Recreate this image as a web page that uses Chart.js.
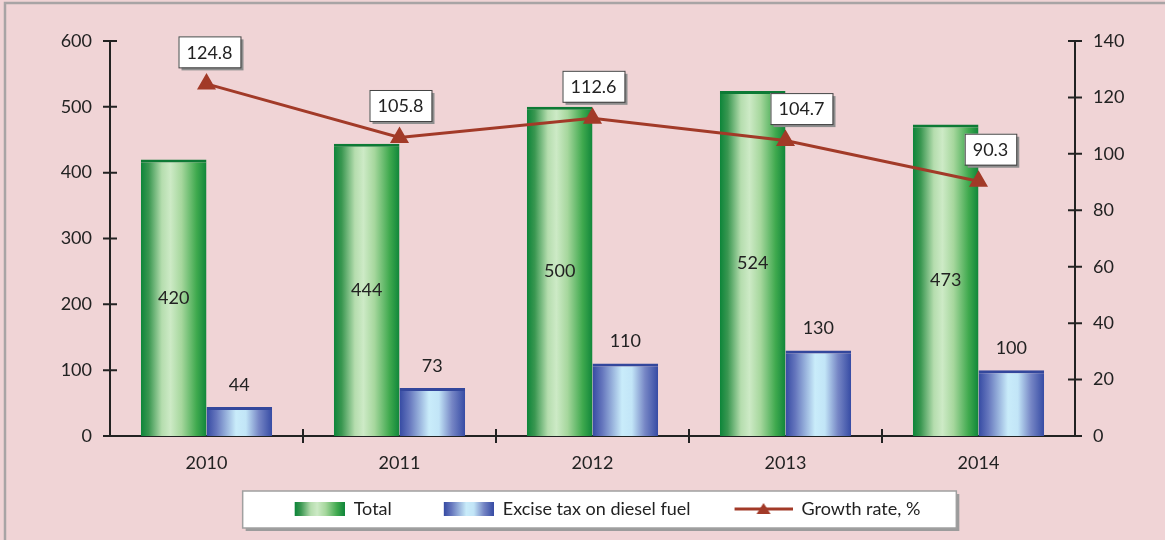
<!DOCTYPE html>
<html>
<head>
<meta charset="utf-8">
<script src="https://cdn.jsdelivr.net/npm/chart.js@4.4.1/dist/chart.umd.min.js"></script>
<style>
  html, body { margin: 0; padding: 0; background: #f0d4d6; }
  #wrap { width: 1165px; height: 540px; position: relative; }
</style>
</head>
<body>
<div id="wrap"><canvas id="chart" width="1165" height="540"></canvas></div>
<script>
// data
const years = ['2010', '2011', '2012', '2013', '2014'];
const totalValues = [420, 444, 500, 524, 473];
const dieselValues = [44, 73, 110, 130, 100];
const growthRates = [124.8, 105.8, 112.6, 104.7, 90.3];
const leftTicks = [0, 100, 200, 300, 400, 500, 600];
const rightTicks = [0, 20, 40, 60, 80, 100, 120, 140];

const FONT = 'Lato, "Open Sans", sans-serif';
const FS = 18;
const catPct = 0.68;
const lineColor = '#a23a28';
const greenStops = [[0, '#0c8539'], [0.12, '#3a9751'], [0.32, '#b5ddae'], [0.45, '#cdeac6'], [0.62, '#a6d79d'], [0.85, '#3fa94e'], [1, '#10863a']];
const blueStops = [[0, '#354aa3'], [0.15, '#6576bd'], [0.45, '#c9ecfa'], [0.6, '#c2e5f7'], [0.8, '#7686c5'], [1, '#364ba4']];
// small sideways shift of the growth labels (as in the picture)
const labelShift = [3, 1, 1, 16, 12];

function barGradient(c, stops) {
    const chart = c.chart;
    const xs = chart.scales.x;
    if (c.type !== 'data' || !xs || !xs.width) return stops[0][1];
    const center = xs.getPixelForValue(c.dataIndex);
    const group = xs.width / years.length * catPct;
    const w = group / 2;
    const left = c.datasetIndex === 0 ? center - group / 2 : center;
    const g = chart.ctx.createLinearGradient(left, 0, left + w, 0);
    stops.forEach(s => g.addColorStop(s[0], s[1]));
    return g;
}

// legend markers: transparent room on the left gives the gap between items
const MW = 92;
function swatch(stops) {
    const cv = document.createElement('canvas');
    cv.width = MW; cv.height = 14;
    const cx = cv.getContext('2d');
    const g = cx.createLinearGradient(MW - 50, 0, MW, 0);
    stops.forEach(s => g.addColorStop(s[0], s[1]));
    cx.fillStyle = g;
    cx.fillRect(MW - 50, 0, 50, 14);
    return cv;
}
function lineSwatch() {
    const cv = document.createElement('canvas');
    cv.width = MW; cv.height = 14;
    const cx = cv.getContext('2d');
    const x0 = MW - 58;
    cx.strokeStyle = lineColor; cx.lineWidth = 3;
    cx.beginPath(); cx.moveTo(x0, 7); cx.lineTo(MW, 7); cx.stroke();
    cx.fillStyle = lineColor;
    cx.beginPath(); cx.moveTo(x0 + 29, 1); cx.lineTo(x0 + 36, 12); cx.lineTo(x0 + 22, 12); cx.closePath(); cx.fill();
    return cv;
}
const markers = [swatch(greenStops), swatch(blueStops), lineSwatch()];

const backdrop = {
    id: 'backdrop',
    beforeDraw(chart) {
        const ctx = chart.ctx;
        ctx.save();
        ctx.fillStyle = '#f0d4d6';
        ctx.fillRect(0, 0, chart.width, chart.height);
        ctx.strokeStyle = '#a8a4a5';
        ctx.lineWidth = 2.5;
        ctx.beginPath();
        ctx.moveTo(5, chart.height); ctx.lineTo(5, 3); ctx.lineTo(chart.width, 3);
        ctx.stroke();
        // legend box
        const boxes = chart.legend.legendHitBoxes;
        if (boxes && boxes.length) {
            const l = Math.min(...boxes.map(b => b.left)) + (MW - 50) - 52;
            const r = Math.max(...boxes.map(b => b.left + b.width)) + 36;
            const cy = boxes[0].top + boxes[0].height / 2;
            ctx.fillStyle = '#9c9c9c';
            ctx.fillRect(l + 3, cy - 18 + 3, r - l, 37);
            ctx.fillStyle = '#ffffff';
            ctx.fillRect(l, cy - 18, r - l, 37);
            ctx.strokeStyle = '#a0a0a0';
            ctx.lineWidth = 1.5;
            ctx.strokeRect(l, cy - 18, r - l, 37);
        }
        ctx.restore();
    }
};

// tick marks crossing the axis lines
const crossTicks = {
    id: 'crossTicks',
    afterDraw(chart) {
        const ctx = chart.ctx;
        const a = chart.chartArea;
        ctx.save();
        ctx.strokeStyle = '#222';
        ctx.lineWidth = 2;
        ctx.beginPath();
        chart.scales.y.ticks.forEach(t => {
            const y = chart.scales.y.getPixelForValue(t.value);
            ctx.moveTo(a.left - 7, y); ctx.lineTo(a.left + 7, y);
        });
        chart.scales.y1.ticks.forEach(t => {
            const y = chart.scales.y1.getPixelForValue(t.value);
            ctx.moveTo(a.right - 7, y); ctx.lineTo(a.right + 7, y);
        });
        const cat = (a.right - a.left) / years.length;
        for (let i = 1; i < years.length; i++) {
            const x = a.left + cat * i;
            ctx.moveTo(x, a.bottom - 7); ctx.lineTo(x, a.bottom + 7);
        }
        ctx.stroke();
        ctx.restore();
    }
};

const valueLabels = {
    id: 'valueLabels',
    afterDatasetsDraw(chart) {
        const ctx = chart.ctx;
        ctx.save();
        ctx.font = FS + 'px ' + FONT;
        ctx.textAlign = 'center';
        ctx.textBaseline = 'middle';
        ctx.fillStyle = '#222';
        chart.getDatasetMeta(0).data.forEach((el, i) => {
            ctx.fillText(totalValues[i], el.x, (el.y + el.base) / 2);
        });
        chart.getDatasetMeta(1).data.forEach((el, i) => {
            ctx.fillText(dieselValues[i], el.x, el.y - 22);
        });
        chart.getDatasetMeta(2).data.forEach((el, i) => {
            const txt = growthRates[i].toFixed(1);
            const w = ctx.measureText(txt).width + 16;
            const h = 31;
            const cx = el.x + labelShift[i];
            const cy = el.y - 32;
            ctx.fillStyle = '#8e8e8e';
            ctx.fillRect(cx - w / 2 + 3, cy - h / 2 + 3, w, h);
            ctx.fillStyle = '#fff';
            ctx.fillRect(cx - w / 2, cy - h / 2, w, h);
            ctx.strokeStyle = '#444';
            ctx.lineWidth = 1;
            ctx.strokeRect(cx - w / 2 + 0.5, cy - h / 2 + 0.5, w, h);
            ctx.fillStyle = '#222';
            ctx.fillText(txt, cx, cy + 1);
        });
        ctx.restore();
    }
};

new Chart(document.getElementById('chart'), {
    data: {
        labels: years,
        datasets: [{
            type: 'bar',
            label: 'Total',
            data: totalValues,
            yAxisID: 'y',
            backgroundColor: c => barGradient(c, greenStops),
            borderColor: '#0d7a35',
            borderWidth: { top: 3, left: 0, right: 0, bottom: 0 },
            borderSkipped: false,
            categoryPercentage: catPct,
            barPercentage: 1,
            order: 1
        }, {
            type: 'bar',
            label: 'Excise tax on diesel fuel',
            data: dieselValues,
            yAxisID: 'y',
            backgroundColor: c => barGradient(c, blueStops),
            borderColor: '#33479c',
            borderWidth: { top: 3, left: 0, right: 0, bottom: 0 },
            borderSkipped: false,
            categoryPercentage: catPct,
            barPercentage: 1,
            order: 1
        }, {
            type: 'line',
            label: 'Growth rate, %',
            data: growthRates,
            yAxisID: 'y1',
            borderColor: lineColor,
            backgroundColor: lineColor,
            borderWidth: 3,
            pointStyle: 'triangle',
            pointRadius: 8,
            pointBackgroundColor: lineColor,
            pointBorderColor: lineColor,
            order: 0
        }]
    },
    options: {
        responsive: false,
        animation: false,
        layout: { padding: { left: 8, right: 0, top: 41, bottom: 12 } },
        scales: {
            x: {
                afterFit: s => { s.height = 54; },
                grid: { display: false, drawTicks: false },
                border: { display: true, color: '#222', width: 2 },
                ticks: { color: '#222', font: { family: FONT, size: FS }, padding: 16 }
            },
            y: {
                position: 'left',
                min: 0, max: 600,
                afterBuildTicks: s => { s.ticks = leftTicks.map(v => ({ value: v })); },
                afterFit: s => { s.width = 102; },
                grid: { display: false, drawTicks: false },
                border: { display: true, color: '#222', width: 2 },
                ticks: { color: '#222', font: { family: FONT, size: FS }, padding: 18 }
            },
            y1: {
                position: 'right',
                min: 0, max: 140,
                afterBuildTicks: s => { s.ticks = rightTicks.map(v => ({ value: v })); },
                afterFit: s => { s.width = 90; },
                grid: { display: false, drawTicks: false },
                border: { display: true, color: '#222', width: 2 },
                ticks: { color: '#222', font: { family: FONT, size: FS }, padding: 18 }
            }
        },
        plugins: {
            tooltip: { enabled: false },
            legend: {
                position: 'bottom',
                labels: {
                    color: '#222',
                    font: { family: FONT, size: FS },
                    usePointStyle: true,
                    pointStyleWidth: MW,
                    padding: 10,
                    generateLabels: chart => chart.data.datasets.map((ds, i) => ({
                        text: ds.label,
                        datasetIndex: i,
                        pointStyle: markers[i],
                        fontColor: '#222',
                        hidden: false,
                        lineWidth: 0
                    }))
                }
            }
        }
    },
    plugins: [backdrop, crossTicks, valueLabels]
});
</script>
</body>
</html>
